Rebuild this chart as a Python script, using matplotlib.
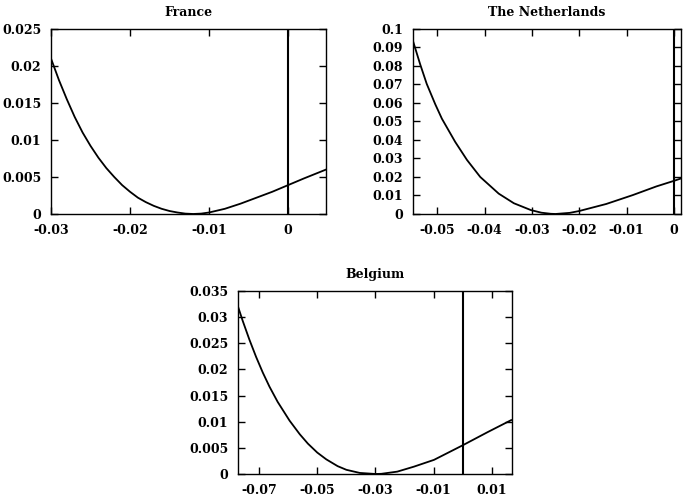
import numpy as np
import matplotlib
matplotlib.use('Agg')
import matplotlib.pyplot as plt
from matplotlib.ticker import FuncFormatter

# France
fr_x = [-0.030, -0.029, -0.028, -0.027, -0.026, -0.025, -0.024, -0.023, -0.022,
        -0.021, -0.020, -0.019, -0.018, -0.017, -0.016, -0.015, -0.014, -0.013,
        -0.012, -0.011, -0.010, -0.008, -0.006, -0.004, -0.002, 0.0, 0.002, 0.0048]
fr_y = [0.0210, 0.0181, 0.0155, 0.0131, 0.0110, 0.0092, 0.0076, 0.0062, 0.0050,
        0.0039, 0.0030, 0.0022, 0.0016, 0.0011, 0.0007, 0.0004, 0.0002, 0.00005,
        0.0, 0.00005, 0.0002, 0.0007, 0.0014, 0.0022, 0.0030, 0.0039, 0.0048, 0.0060]

# The Netherlands
nl_x = [-0.0551, -0.0549, -0.0536, -0.0522, -0.0504, -0.0490, -0.0462, -0.0437,
        -0.0409, -0.0370, -0.0338, -0.0302, -0.0280, -0.0260, -0.0250, -0.0220,
        -0.0200, -0.0143, -0.0087, -0.0037, 0.0, 0.0015]
nl_y = [0.0935, 0.0918, 0.0810, 0.0703, 0.0593, 0.0515, 0.0390, 0.0292,
        0.0200, 0.0110, 0.0058, 0.0021, 0.0007, 0.0001, 0.0, 0.0006,
        0.0016, 0.0054, 0.0102, 0.0149, 0.0179, 0.0192]

# Belgium
be_x = [-0.0772, -0.0756, -0.0733, -0.0710, -0.0687, -0.0664, -0.0636, -0.0595,
        -0.0560, -0.0532, -0.0500, -0.0469, -0.0430, -0.0400, -0.0354, -0.0300,
        -0.0280, -0.0225, -0.0168, -0.0099, 0.0, 0.0085, 0.0166]
be_y = [0.0320, 0.0293, 0.0257, 0.0224, 0.0194, 0.0167, 0.0138, 0.0102,
        0.0076, 0.0058, 0.0041, 0.0028, 0.0015, 0.0008, 0.0002, 0.0,
        0.00003, 0.00045, 0.0014, 0.0027, 0.0055, 0.0080, 0.0103]

plt.rcParams['font.family'] = 'DejaVu Serif'
plt.rcParams['font.size'] = 9

fig = plt.figure(figsize=(6.83, 5.03), dpi=100)

fmt = FuncFormatter(lambda v, p: '%g' % round(v, 6))


def panel(rect, x, y, title, xlim, ylim, xticks, yticks):
    ax = fig.add_axes(rect)
    ax.plot(x, y, color='black', lw=1.3)
    ax.axvline(0, color='black', lw=1.5)
    ax.set_xlim(*xlim)
    ax.set_ylim(*ylim)
    ax.set_xticks(xticks)
    ax.set_yticks(yticks)
    ax.xaxis.set_major_formatter(fmt)
    ax.yaxis.set_major_formatter(fmt)
    ax.tick_params(direction='in', top=True, right=True, length=5, width=1, labelsize=9)
    ax.tick_params(axis='x', pad=7)
    ax.tick_params(axis='y', pad=7)
    for lab in ax.get_xticklabels() + ax.get_yticklabels():
        lab.set_fontweight('bold')
    for s in ax.spines.values():
        s.set_linewidth(1.0)
    ax.set_title(title, fontsize=9, fontweight='bold', pad=9)
    return ax


panel([0.0747, 0.5746, 0.4026, 0.3678], fr_x, fr_y, 'France',
      (-0.03, 0.0048), (0, 0.025),
      [-0.03, -0.02, -0.01, 0.0], np.arange(0, 0.0251, 0.005))

panel([0.6047, 0.5746, 0.3924, 0.3678], nl_x, nl_y, 'The Netherlands',
      (-0.0551, 0.0015), (0, 0.1),
      [-0.05, -0.04, -0.03, -0.02, -0.01, 0.0], np.arange(0, 0.1001, 0.01))

panel([0.3485, 0.0577, 0.4012, 0.3638], be_x, be_y, 'Belgium',
      (-0.0772, 0.0169), (0, 0.035),
      [-0.07, -0.05, -0.03, -0.01, 0.01], np.arange(0, 0.0351, 0.005))

fig.savefig('out.png', dpi=100)
